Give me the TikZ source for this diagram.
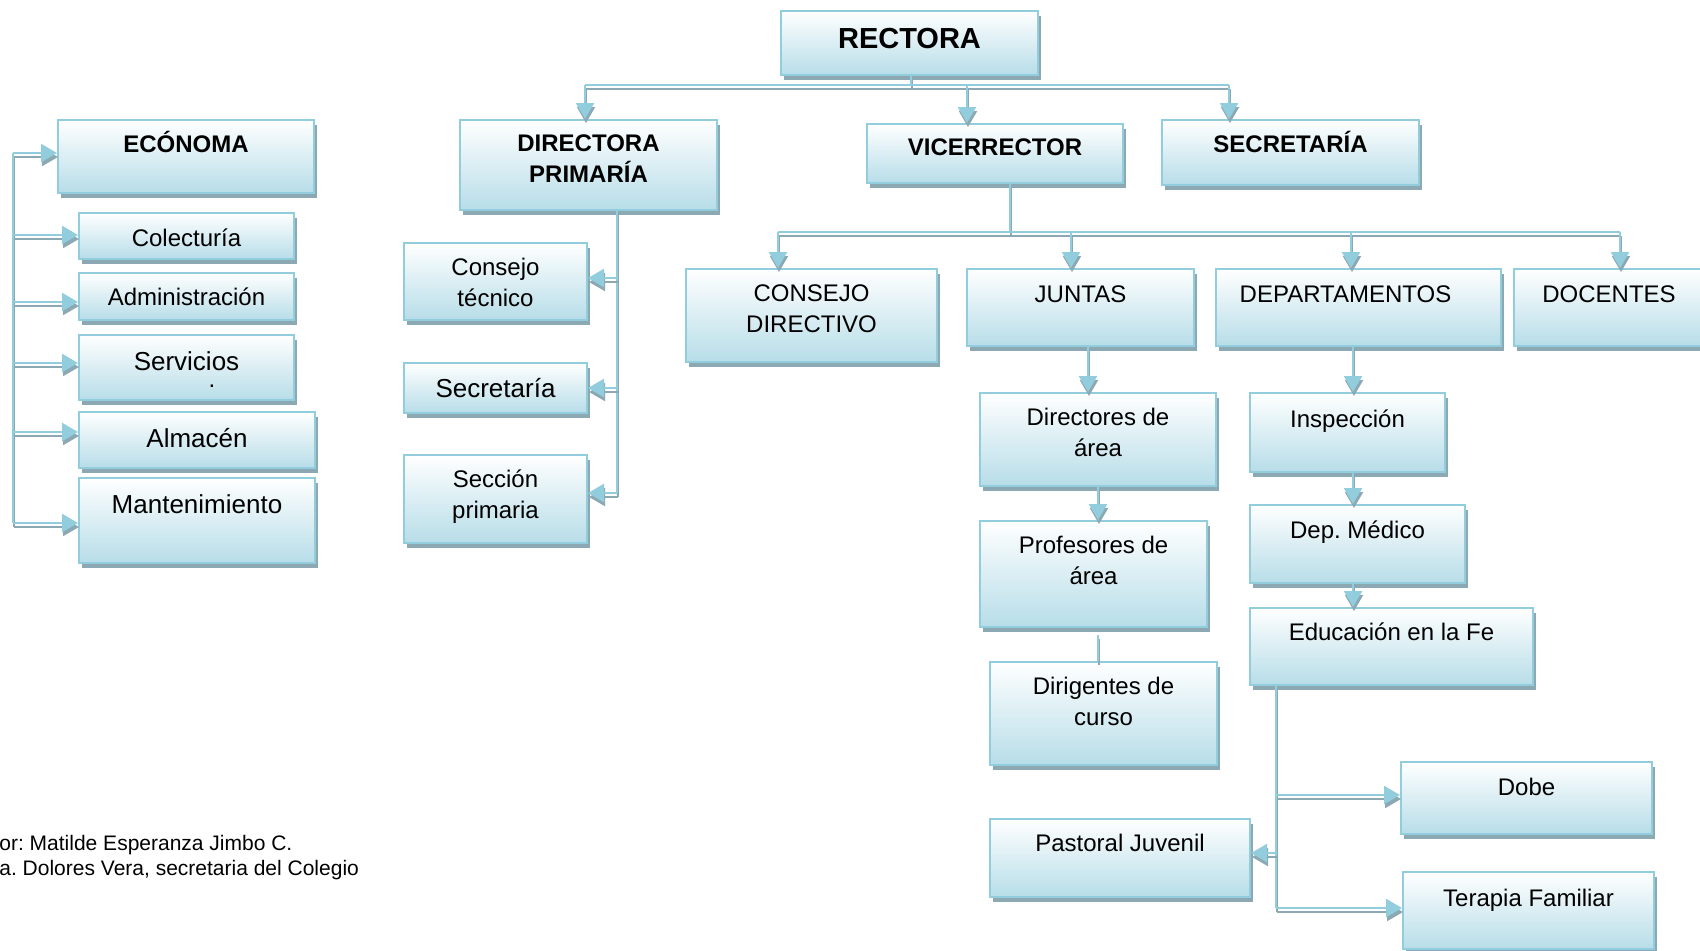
\documentclass[tikz,border=0pt]{standalone}
\usepackage{fontspec}
\setmainfont{Liberation Sans}
\usetikzlibrary{positioning,arrows.meta,shadows}

\definecolor{borde}{RGB}{146,205,221}
\definecolor{celeste}{RGB}{183,221,232}
\definecolor{sombra}{RGB}{140,168,178}

\tikzset{
  caja/.style={draw=borde, line width=1pt, top color=white, bottom color=celeste,
    anchor=north west, inner sep=0pt,
    drop shadow={shadow xshift=1.5pt, shadow yshift=-2.5pt, fill=sombra, opacity=1}},
  texto/.style={align=center, inner sep=0pt, font=\fontsize{12}{15.5}\selectfont,
    execute at begin node=\strut},
  titulo/.style={texto, font=\fontsize{12}{15.5}\selectfont\bfseries},
  grande/.style={texto, font=\fontsize{13}{16}\selectfont},
  nota/.style={inner sep=0pt, font=\fontsize{10.5}{12.5}\selectfont},
  linea/.style={draw=borde, line width=1.25pt,
    preaction={draw=sombra, line width=1pt, transform canvas={shift={(0.5pt,-2pt)}}}},
  flecha/.style={linea, -{Triangle[length=8pt, width=9pt]}},
}

\begin{document}
\frenchspacing
\begin{tikzpicture}[x=0.5pt, y=-0.5pt]
  \useasboundingbox (0,0) rectangle (1700,950);

  % Cajas de la cabeza
  \node[caja, minimum width=128.5pt, minimum height=32pt] (rectora) at (780,10) {};
  \node[caja, minimum width=128pt, minimum height=36.5pt] (economa) at (57,119) {};
  \node[caja, minimum width=128.5pt, minimum height=45pt] (directora) at (459,119) {};
  \node[caja, minimum width=128pt, minimum height=29.5pt] (vice) at (866,123) {};
  \node[caja, minimum width=128.5pt, minimum height=32.5pt] (secretaria) at (1161,119) {};

  % Cajas de la economa
  \node[caja, minimum width=107.5pt, minimum height=23pt] (colecturia) at (78,212) {};
  \node[caja, minimum width=107.5pt, minimum height=23.5pt] (admin) at (78,272) {};
  \node[caja, minimum width=107.5pt, minimum height=32.5pt] (servicios) at (78,334) {};
  \node[caja, minimum width=118pt, minimum height=28pt] (almacen) at (78,411) {};
  \node[caja, minimum width=118pt, minimum height=42.5pt] (manten) at (78,477) {};

  % Cajas de primaria
  \node[caja, minimum width=91.5pt, minimum height=38.5pt] (consejoT) at (403,242) {};
  \node[caja, minimum width=91.5pt, minimum height=25pt] (secretariaP) at (403,362) {};
  \node[caja, minimum width=91.5pt, minimum height=44pt] (seccion) at (403,454) {};

  % Cajas del vicerrector
  \node[caja, minimum width=125.5pt, minimum height=46.5pt] (consejoD) at (685,268) {};
  \node[caja, minimum width=113.5pt, minimum height=38.5pt] (juntas) at (966,268) {};
  \node[caja, minimum width=142.5pt, minimum height=38.5pt] (depart) at (1215,268) {};
  \node[caja, minimum width=95pt, minimum height=38.5pt] (docentes) at (1513,268) {};
  \node[caja, minimum width=118pt, minimum height=46.5pt] (directores) at (979,392) {};
  \node[caja, minimum width=113.5pt, minimum height=53pt] (profesores) at (979,520) {};
  \node[caja, minimum width=113.5pt, minimum height=51.5pt] (dirigentes) at (989,661) {};
  \node[caja, minimum width=97.5pt, minimum height=39.5pt] (inspeccion) at (1249,392) {};
  \node[caja, minimum width=107.5pt, minimum height=39pt] (medico) at (1249,504) {};
  \node[caja, minimum width=141.5pt, minimum height=38.5pt] (educacion) at (1249,607) {};
  \node[caja, minimum width=125.5pt, minimum height=36pt] (dobe) at (1400,761) {};
  \node[caja, minimum width=125.5pt, minimum height=38.5pt] (terapia) at (1402,871) {};
  \node[caja, minimum width=130pt, minimum height=39pt] (pastoral) at (989,818) {};

  % Textos
  \node[titulo, font=\fontsize{14.5}{17.5}\selectfont\bfseries, below=7pt of rectora.north] (tRectora) {RECTORA};
  \node[titulo, below=5.5pt of economa.north] (tEconoma) {ECÓNOMA};
  \node[titulo, below=7.5pt of directora.north] (tDirectora) {DIRECTORA\\PRIMARÍA};
  \node[titulo, below=5pt of vice.north] (tVice) {VICERRECTOR};
  \node[titulo, below=5.5pt of secretaria.north] (tSecretaria) {SECRETARÍA};
  \node[texto, below=6pt of colecturia.north] (tColecturia) {Colecturía};
  \node[texto, below=5.5pt of admin.north] (tAdmin) {Administración};
  \node[grande, below=7pt of servicios.north] (tServicios) {Servicios};
  \node[inner sep=0pt, font=\fontsize{12}{14}\selectfont] (punto) at (212,386) {.};
  \node[grande, below=7pt of almacen.north] (tAlmacen) {Almacén};
  \node[grande, below=7pt of manten.north] (tManten) {Mantenimiento};
  \node[texto, below=8pt of consejoT.north] (tConsejoT) {Consejo\\técnico};
  \node[grande, below=6.5pt of secretariaP.north] (tSecretariaP) {Secretaría};
  \node[texto, below=7.5pt of seccion.north] (tSeccion) {Sección\\primaria};
  \node[texto, below=8pt of consejoD.north] (tConsejoD) {CONSEJO\\DIRECTIVO};
  \node[texto, below=6pt of juntas.north] (tJuntas) {JUNTAS};
  \node[texto, below=6pt of depart.north, xshift=-6.5pt] (tDepart) {DEPARTAMENTOS};
  \node[texto, below=6pt of docentes.north] (tDocentes) {DOCENTES};
  \node[texto, below=8pt of directores.north] (tDirectores) {Directores de\\área};
  \node[texto, below=8pt of profesores.north] (tProfesores) {Profesores de\\área};
  \node[texto, below=8pt of dirigentes.north] (tDirigentes) {Dirigentes de\\curso};
  \node[texto, below=6.5pt of inspeccion.north] (tInspeccion) {Inspección};
  \node[texto, below=6pt of medico.north] (tMedico) {Dep. Médico};
  \node[texto, below=5.5pt of educacion.north] (tEducacion) {Educación en la Fe};
  \node[texto, below=6pt of dobe.north] (tDobe) {Dobe};
  \node[texto, below=6.5pt of terapia.north] (tTerapia) {Terapia Familiar};
  \node[texto, below=5.5pt of pastoral.north] (tPastoral) {Pastoral Juvenil};

  % Nota al pie
  \node[nota, anchor=base west] (autor) at (-1,850) {or: Matilde Esperanza Jimbo C.};
  \node[nota, anchor=base west] (fuente) at (-1,875) {a. Dolores Vera, secretaria del Colegio};

  % Rectora
  \coordinate (ra) at (585,85);
  \coordinate (rb) at (911,85);
  \coordinate (rc) at (967,85);
  \coordinate (rd) at (1229,85);
  \draw[linea] (rectora.south -| rb) -- (rb);
  \draw[linea] (ra) -- (rd);
  \draw[flecha] (ra) -- (ra |- directora.north);
  \draw[flecha] (rc) -- (rc |- vice.north);
  \draw[flecha] (rd) -- (rd |- secretaria.north);

  % Economa
  \coordinate (ea) at (13,153);
  \coordinate (eb) at (13,235);
  \coordinate (ec) at (13,302);
  \coordinate (ed) at (13,363);
  \coordinate (ee) at (13,432);
  \coordinate (ef) at (13,523);
  \draw[linea] (ea) -- (ef);
  \draw[flecha] (ea) -- (ea -| economa.west);
  \draw[flecha] (eb) -- (eb -| colecturia.west);
  \draw[flecha] (ec) -- (ec -| admin.west);
  \draw[flecha] (ed) -- (ed -| servicios.west);
  \draw[flecha] (ee) -- (ee -| almacen.west);
  \draw[flecha] (ef) -- (ef -| manten.west);

  % Directora primaria
  \coordinate (da) at (617,278);
  \coordinate (db) at (617,388);
  \coordinate (dc) at (617,493);
  \draw[linea] (directora.south -| da) -- (dc);
  \draw[flecha] (da) -- (da -| consejoT.east);
  \draw[flecha] (db) -- (db -| secretariaP.east);
  \draw[flecha] (dc) -- (dc -| seccion.east);

  % Vicerrector
  \coordinate (va) at (778,232);
  \coordinate (vm) at (1010,232);
  \coordinate (vb) at (1071,232);
  \coordinate (vc) at (1351,232);
  \coordinate (vd) at (1620,232);
  \draw[linea] (vice.south -| vm) -- (vm);
  \draw[linea] (va) -- (vd);
  \draw[flecha] (va) -- (va |- consejoD.north);
  \draw[flecha] (vb) -- (vb |- juntas.north);
  \draw[flecha] (vc) -- (vc |- depart.north);
  \draw[flecha] (vd) -- (vd |- docentes.north);

  % Juntas
  \coordinate (ja) at (1088,0);
  \coordinate (jb) at (1098,0);
  \draw[flecha] (juntas.south -| ja) -- (directores.north -| ja);
  \draw[flecha] (directores.south -| jb) -- (profesores.north -| jb);
  \draw[linea] ([yshift=-3.5pt]profesores.south -| jb) -- (dirigentes.north -| jb);

  % Departamentos
  \coordinate (dx) at (1353,0);
  \draw[flecha] (depart.south -| dx) -- (inspeccion.north -| dx);
  \draw[flecha] (inspeccion.south -| dx) -- (medico.north -| dx);
  \draw[flecha] (medico.south -| dx) -- (educacion.north -| dx);

  % Educacion en la Fe
  \coordinate (fa) at (1276,795);
  \coordinate (fb) at (1276,853);
  \coordinate (fc) at (1276,908);
  \draw[linea] (educacion.south -| fa) -- (fc);
  \draw[flecha] (fa) -- (fa -| dobe.west);
  \draw[flecha] (fb) -- (fb -| pastoral.east);
  \draw[flecha] (fc) -- (fc -| terapia.west);
\end{tikzpicture}
\end{document}
